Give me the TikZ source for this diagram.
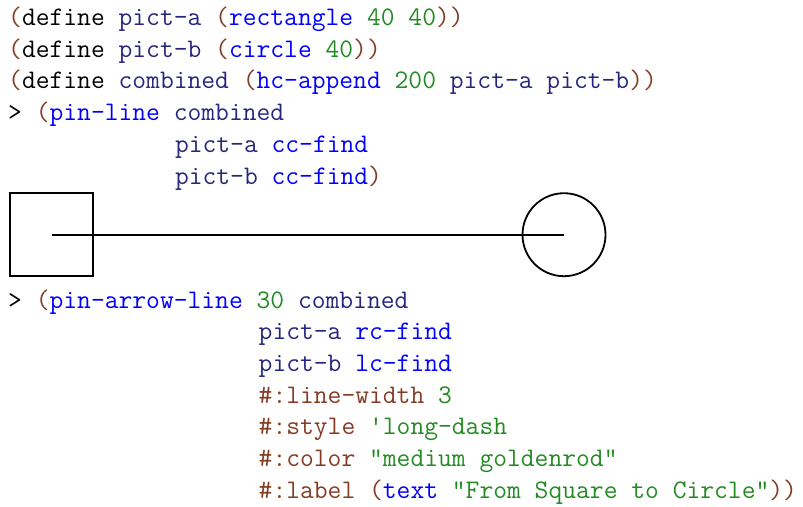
\documentclass[tikz,border=0pt]{standalone}
\usepackage{fontspec}
\usetikzlibrary{positioning}
\definecolor{rktparen}{RGB}{132,60,36}
\definecolor{rktsym}{RGB}{38,38,128}
\definecolor{rktlink}{RGB}{0,0,255}
\definecolor{rktval}{RGB}{34,139,34}
\newcommand\rpn[1]{\textcolor{rktparen}{#1}}
\newcommand\rsym[1]{\textcolor{rktsym}{#1}}
\newcommand\rlink[1]{\textcolor{rktlink}{#1}}
\newcommand\rval[1]{\textcolor{rktval}{#1}}
\tikzstyle{code}=[anchor=base west, inner sep=0pt, font=\ttfamily\fontsize{26.8}{31.7}\selectfont]
\tikzstyle{object}=[line width=1.8pt]

\begin{document}
\begin{tikzpicture}[x=1pt, y=-1pt]
  \useasboundingbox (0,0) rectangle (803,506);
  % definitions
  \node[code] (defa) at (8,25.5)
    {\rpn{(}define \rsym{pict-a} \rpn{(}\rlink{rectangle} \rval{40} \rval{40}\rpn{))}};
  \node[code] (defb) at (8,57.2)
    {\rpn{(}define \rsym{pict-b} \rpn{(}\rlink{circle} \rval{40}\rpn{))}};
  \node[code] (defc) at (8,88.9)
    {\rpn{(}define \rsym{combined} \rpn{(}\rlink{hc-append} \rval{200} \rsym{pict-a} \rsym{pict-b}\rpn{))}};
  % pin-line
  \node[code] (pinline) at (8,120.6) {> \rpn{(}\rlink{pin-line} \rsym{combined}};
  \node[code] (pinfrom) at (174.8,152.3) {\rsym{pict-a} \rlink{cc-find}};
  \node[code] (pinto) at (174.8,184) {\rsym{pict-b} \rlink{cc-find}\rpn{)}};
  \node[draw, object, minimum size=83pt, inner sep=0pt] (picta) at (51.75,234.7) {};
  \node[draw, object, circle, minimum size=83pt, inner sep=0pt] (pictb) at (564,234.7) {};
  \draw[object] (picta.center) -- (pictb.center);
  % pin-arrow-line
  \node[code] (arrline) at (8,308) {> \rpn{(}\rlink{pin-arrow-line} \rval{30} \rsym{combined}};
  \node[code] (arrfrom) at (258.5,339.7) {\rsym{pict-a} \rlink{rc-find}};
  \node[code] (arrto) at (258.5,371.4) {\rsym{pict-b} \rlink{lc-find}};
  \node[code] (arrwidth) at (258.5,403.1) {\rpn{\#:line-width} \rval{3}};
  \node[code] (arrstyle) at (258.5,434.8) {\rpn{\#:style} \rval{'long-dash}};
  \node[code] (arrcolor) at (258.5,466.5) {\rpn{\#:color} \rval{"medium goldenrod"}};
  \node[code] (arrlabel) at (258.5,498.2)
    {\rpn{\#:label} \rpn{(}\rlink{text} \rval{"From Square to Circle"}\rpn{))}};
\end{tikzpicture}
\end{document}
